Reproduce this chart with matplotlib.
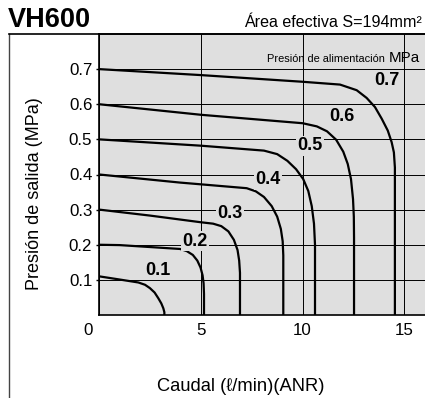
import matplotlib
matplotlib.use("Agg")
import matplotlib.pyplot as plt
from matplotlib.lines import Line2D
from matplotlib.transforms import ScaledTranslation
from matplotlib import font_manager

plt.rcParams['font.family'] = ['Liberation Sans', 'DejaVu Sans']

# ---- data ----
supply = ["0.1", "0.2", "0.3", "0.4", "0.5", "0.6", "0.7"]

flow_01 = [0.0, 1.0, 1.92, 2.25, 2.49, 2.72, 2.9, 3.05, 3.15, 3.2, 3.2]
pres_01 = [0.110, 0.101, 0.0926, 0.086, 0.0765, 0.064, 0.048, 0.033, 0.019, 0.008, 0.0]

flow_02 = [0.0, 1.0, 3.97, 4.3, 4.6, 4.82, 4.98, 5.08, 5.13, 5.15, 5.15]
pres_02 = [0.200, 0.199, 0.188, 0.182, 0.171, 0.155, 0.135, 0.113, 0.090, 0.06, 0.0]

flow_03 = [0.0, 2.5, 5.0, 5.6, 6.0, 6.35, 6.62, 6.8, 6.88, 6.92, 6.92]
pres_03 = [0.300, 0.283, 0.264, 0.260, 0.253, 0.238, 0.214, 0.185, 0.155, 0.12, 0.0]

flow_04 = [0.0, 3.97, 5.0, 7.25, 7.7, 8.1, 8.48, 8.75, 8.93, 9.02, 9.05, 9.05]
pres_04 = [0.400, 0.377, 0.372, 0.361, 0.352, 0.336, 0.310, 0.280, 0.245, 0.210, 0.17, 0.0]

flow_05 = [0.0, 5.0, 8.1, 8.75, 9.25, 9.68, 10.03, 10.28, 10.45, 10.56, 10.61, 10.61]
pres_05 = [0.500, 0.482, 0.468, 0.458, 0.439, 0.415, 0.387, 0.353, 0.310, 0.260, 0.20, 0.0]

flow_06 = [0.0, 5.0, 10.0, 10.7, 11.2, 11.65, 12.0, 12.22, 12.38, 12.48, 12.52, 12.53, 12.53]
pres_06 = [0.600, 0.570, 0.546, 0.537, 0.523, 0.499, 0.465, 0.430, 0.387, 0.330, 0.28, 0.22, 0.0]

flow_07 = [0.0, 5.0, 10.0, 11.84, 12.66, 13.15, 13.56, 13.89, 14.19, 14.38, 14.49, 14.54, 14.54]
pres_07 = [0.700, 0.683, 0.664, 0.656, 0.640, 0.618, 0.592, 0.559, 0.525, 0.492, 0.463, 0.42, 0.0]

label_x = [2.9, 4.71, 6.43, 8.31, 10.36, 11.92, 14.14]
label_y = [0.127, 0.210, 0.289, 0.385, 0.482, 0.566, 0.668]

x_ticks = [0, 5, 10, 15]
y_ticks = [0.1, 0.2, 0.3, 0.4, 0.5, 0.6, 0.7]
y_tick_labels = ["0.1", "0.2", "0.3", "0.4", "0.5", "0.6", "0.7"]

curves = [(flow_01, pres_01), (flow_02, pres_02), (flow_03, pres_03),
          (flow_04, pres_04), (flow_05, pres_05), (flow_06, pres_06),
          (flow_07, pres_07)]

# ---- figure ----
W, H = 425, 398
fig = plt.figure(figsize=(W / 100, H / 100), dpi=100)
bg = '#dfdfdf'

ax_left = 99.3 / W
ax_bottom = 1 - 315 / H
ax_top = 1 - 34 / H
ax = fig.add_axes([ax_left, ax_bottom, 1 - ax_left, ax_top - ax_bottom])
ax.set_facecolor(bg)
ax.set_xlim(0, (W - 99.3) / 20.33)
ax.set_ylim(0, 0.8)

ax.set_xticks(x_ticks)
ax.set_xticklabels([str(v) for v in x_ticks])
ax.set_yticks(y_ticks)
ax.set_yticklabels(y_tick_labels)
ax.tick_params(axis='x', length=0, pad=6, labelsize=12.2)
ax.tick_params(axis='y', length=2, width=1, pad=3, labelsize=12.2, direction='out')
# shift the "0" label left like the reference
lab0 = ax.get_xticklabels()[0]
lab0.set_transform(lab0.get_transform() + ScaledTranslation(-11 / 100, 0, fig.dpi_scale_trans))

ax.grid(True, color='black', linewidth=0.7, zorder=1)
ax.set_axisbelow(True)
ax.spines['right'].set_visible(False)
for s in ['left', 'bottom', 'top']:
    ax.spines[s].set_linewidth(1.2)

for fx, py in curves:
    ax.plot(fx, py, color='black', linewidth=1.6, solid_joinstyle='round',
            solid_capstyle='butt', zorder=3)

for lx, ly, t in zip(label_x, label_y, supply):
    ax.text(lx, ly, t, ha='center', va='center', fontsize=13, fontweight='bold',
            zorder=4, bbox=dict(facecolor=bg, edgecolor='none', pad=1.0))

# outer frame
fig.add_artist(Line2D([9 / W, 9 / W], [0, ax_top], transform=fig.transFigure,
                      color='#444444', linewidth=1.0))
fig.add_artist(Line2D([9 / W, 1], [ax_top, ax_top], transform=fig.transFigure,
                      color='black', linewidth=1.2))

# titles and labels
fig.text(8 / W, 1 - 27.3 / H, "VH600", fontsize=19.5, fontweight='bold',
         ha='left', va='baseline')
fig.text(421.7 / W, 1 - 27.3 / H, "Área efectiva S=194mm²", fontsize=11.6,
         ha='right', va='baseline')

narrow = 'Liberation Sans Narrow'
try:
    font_manager.findfont(narrow, fallback_to_default=False)
    fam = [narrow, 'DejaVu Sans']
    pres_size = 9.6
except Exception:
    fam = ['Liberation Sans', 'DejaVu Sans']
    pres_size = 7.9
fig.text(385 / W, 1 - 61.7 / H, "Presión de alimentación", fontsize=pres_size,
         family=fam, ha='right', va='baseline')
fig.text(389 / W, 1 - 61.7 / H, "MPa", fontsize=10.9, ha='left', va='baseline')

fig.text(35 / W, 1 - 193.5 / H, "Presión de salida (MPa)", fontsize=13,
         rotation=90, ha='center', va='center')
fig.text(241 / W, 1 - 386.7 / H, "Caudal (\u2113/min)(ANR)", fontsize=13.2,
         ha='center', va='center')

fig.savefig("out.png", dpi=100)
